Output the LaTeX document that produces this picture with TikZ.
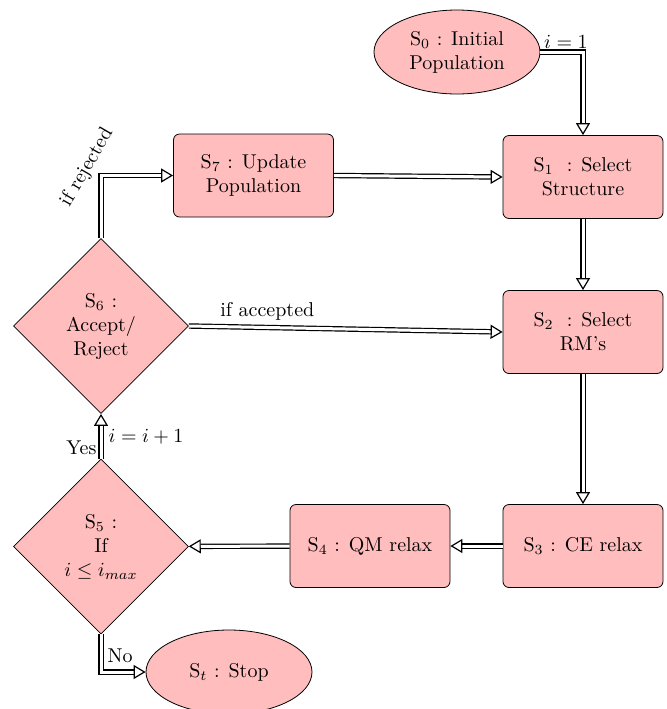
\documentclass[tikz,border=0pt]{standalone}
\usetikzlibrary{shapes.geometric,arrows.meta,calc}
\definecolor{boxpink}{RGB}{255,189,189}
\tikzset{
  procbox/.style={draw, fill=boxpink, rounded corners=3pt, minimum width=80pt, minimum height=41.5pt, align=center, inner sep=2pt},
  ovalbox/.style={draw, fill=boxpink, ellipse, minimum width=83pt, minimum height=42pt, align=center, inner sep=0pt},
  decbox/.style={draw, fill=boxpink, diamond, aspect=1, minimum width=87.5pt, minimum height=87.5pt, align=center, inner sep=0pt},
  dblarrow/.style={draw, line width=0.6pt, double, double distance=1.5pt, -{Triangle[length=6pt,width=7pt,fill=white,line width=0.6pt]}}
}
\begin{document}
\begin{tikzpicture}[x=0.5pt,y=-0.5pt]
\useasboundingbox (0,0) rectangle (667,709);
\node[ovalbox] (s0) at (457,52) {S$_0$ : Initial\\Population};
\node[procbox] (s1) at (583,177) {S$_1$\,\, : Select\\Structure};
\node[procbox] (s7) at (253.5,175.5) {S$_7$ : Update\\Population};
\node[procbox] (s2) at (583,332) {S$_2$\,\, : Select\\RM's};
\node[procbox] (s3) at (583,546) {S$_3$ : CE relax};
\node[procbox] (s4) at (370,546) {S$_4$ : QM relax};
\node[decbox] (s6) at (101,326) {S$_6$ :\\Accept/\\Reject};
\node[decbox] (s5) at (101,546.5) {S$_5$ :\\If\\$i\leq i_{max}$};
\node[ovalbox] (st) at (229,672) {S$_t$ : Stop};

\draw[dblarrow] (s0.east) -| node[pos=0.3,above,inner sep=1.5pt] {$i=1$} (s1.north);
\draw[dblarrow] (s1) -- (s2);
\draw[dblarrow] (s2) -- (s3);
\draw[dblarrow] (s3) -- (s4);
\draw[dblarrow] (s4) -- (s5);
\draw[dblarrow] (s5) -- node[pos=0.24,left,inner sep=2pt] {Yes} node[pos=0.48,right,inner sep=3.5pt] {$i=i+1$} (s6);
\draw[dblarrow] (s6.east) -- node[pos=0.25,above] {if accepted} (s2.west);
\draw[dblarrow] (s6.north) |- node[pos=0.5,rotate=60,anchor=south] {if rejected} (s7.west);
\draw[dblarrow] (s7.east) -- (s1.west);
\draw[dblarrow] (s5.south) |- node[pos=0.28,right,inner sep=3pt] {No} (st.west);
\end{tikzpicture}
\end{document}
